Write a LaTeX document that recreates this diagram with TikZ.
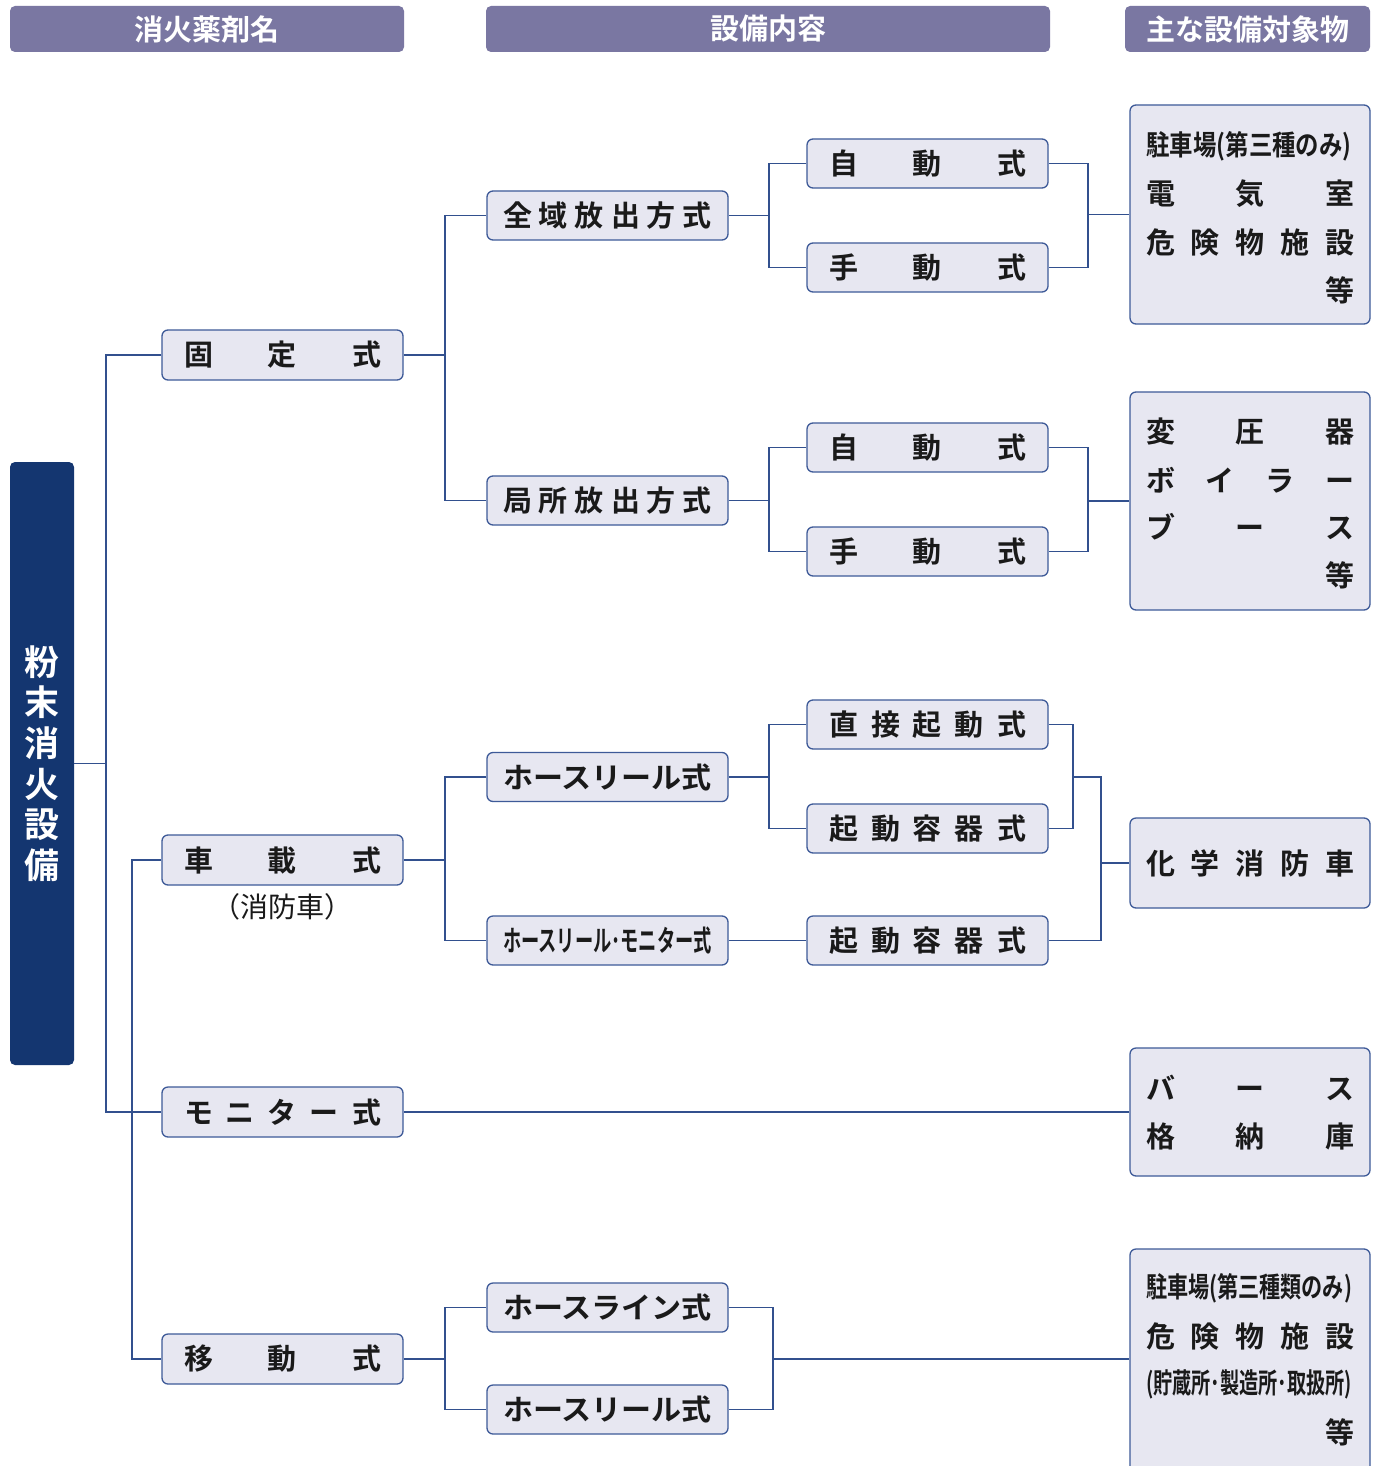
\documentclass[tikz,border=0pt]{standalone}
\usepackage{fontspec}
\usepackage{graphicx}
\setmainfont{Noto Sans CJK JP}[BoldFont={* Bold}]
\definecolor{hdrc}{HTML}{7A77A2}
\definecolor{rootc}{HTML}{143670}
\definecolor{boxc}{HTML}{E7E7F1}
\definecolor{bordc}{HTML}{3E5A98}
\definecolor{linec}{HTML}{32508E}
\definecolor{txtc}{HTML}{1A1A1A}
\newcommand\spr[2]{\makebox[#1][s]{#2}}
\newcommand\cnd[2]{\resizebox{#1}{\height}{#2}}
\tikzset{
  hdr/.style={fill=hdrc, rounded corners=5pt, text=white, inner sep=0pt, minimum height=46pt, font=\fontsize{29}{34}\selectfont\bfseries},
  lbox/.style={draw=bordc, fill=boxc, rounded corners=6pt, line width=1.3pt, inner sep=0pt, text=txtc, font=\fontsize{29}{34}\selectfont\bfseries},
  lv1/.style={lbox, minimum width=241pt, minimum height=50pt},
  lv2/.style={lbox, minimum width=241pt, minimum height=49pt},
  lv3/.style={lbox, minimum width=241pt, minimum height=49pt},
  lv4/.style={lbox, minimum width=240pt},
  ltxt/.style={inner sep=0pt, text=txtc, font=\fontsize{29}{34}\selectfont\bfseries},
  conn/.style={draw=linec, line width=1.4pt},
}
\begin{document}
\begin{tikzpicture}[x=1pt,y=-1pt]
\clip (0,0) rectangle (1384,1466);
\fill[white] (0,0) rectangle (1384,1466);
% headers
\node[hdr, minimum width=394pt] (h1) at (207,29) {消火薬剤名};
\node[hdr, minimum width=564pt] (h2) at (768,29) {設備内容};
\node[hdr, minimum width=245pt] (h3) at (1247.5,29) {主な設備対象物};
% root
\node[fill=rootc, rounded corners=5pt, minimum width=64pt, minimum height=603pt, inner sep=0pt, text=white, align=center, font=\fontsize{35}{40.6}\selectfont\bfseries] (root) at (42,763.5) {粉\\末\\消\\火\\設\\備};
% level 1
\node[lv1] (a1) at (282.5,355) {\spr{197pt}{固\hfill 定\hfill 式}};
\node[lv1] (a2) at (282.5,860) {\spr{197pt}{車\hfill 載\hfill 式}};
\node[lv1] (a3) at (282.5,1112) {\spr{197pt}{モ\hfill ニ\hfill タ\hfill ー\hfill 式}};
\node[lv1] (a4) at (282.5,1359) {\spr{197pt}{移\hfill 動\hfill 式}};
\node[ltxt, font=\fontsize{28}{34}\selectfont] (a2n) at (282,907) {（消防車）};
% level 2
\node[lv2] (b1) at (607.5,215.5) {\spr{209pt}{全\hfill 域\hfill 放\hfill 出\hfill 方\hfill 式}};
\node[lv2] (b2) at (607.5,500.5) {\spr{209pt}{局\hfill 所\hfill 放\hfill 出\hfill 方\hfill 式}};
\node[lv2] (b3) at (607.5,777) {\cnd{209pt}{ホースリール式}};
\node[lv2] (b4) at (607.5,940.5) {\cnd{209pt}{ホースリール･モニター式}};
\node[lv2] (b5) at (607.5,1307.5) {\cnd{209pt}{ホースライン式}};
\node[lv2] (b6) at (607.5,1409.5) {\cnd{209pt}{ホースリール式}};
% level 3
\node[lv3] (c1) at (927.5,163.5) {\spr{197pt}{自\hfill 動\hfill 式}};
\node[lv3] (c2) at (927.5,267.5) {\spr{197pt}{手\hfill 動\hfill 式}};
\node[lv3] (c3) at (927.5,447.5) {\spr{197pt}{自\hfill 動\hfill 式}};
\node[lv3] (c4) at (927.5,551.5) {\spr{197pt}{手\hfill 動\hfill 式}};
\node[lv3] (c5) at (927.5,724.5) {\spr{197pt}{直\hfill 接\hfill 起\hfill 動\hfill 式}};
\node[lv3] (c6) at (927.5,828.5) {\spr{197pt}{起\hfill 動\hfill 容\hfill 器\hfill 式}};
\node[lv3] (c7) at (927.5,940.5) {\spr{197pt}{起\hfill 動\hfill 容\hfill 器\hfill 式}};
% level 4
\node[lv4, minimum height=219pt] (d1) at (1250,214.5) {};
\node[lv4, minimum height=218pt] (d2) at (1250,501) {};
\node[lv4, minimum height=90pt] (d3) at (1250,863) {\spr{208pt}{化\hfill 学\hfill 消\hfill 防\hfill 車}};
\node[lv4, minimum height=128pt] (d4) at (1250,1112) {};
\node[lv4, minimum height=241pt] (d5) at (1250,1369.5) {};
% level 4 texts
\node[ltxt, font=\fontsize{28}{34}\selectfont\bfseries] (d1t1) at (1249,146) {\cnd{205pt}{駐車場(第三種のみ)}};
\node[ltxt] (d1t2) at (1250,194) {\spr{208pt}{電\hfill 気\hfill 室}};
\node[ltxt] (d1t3) at (1250,242) {\spr{208pt}{危\hfill 険\hfill 物\hfill 施\hfill 設}};
\node[ltxt] (d1t4) at (1250,290) {\spr{208pt}{\hfill 等}};
\node[ltxt] (d2t1) at (1250,432) {\spr{208pt}{変\hfill 圧\hfill 器}};
\node[ltxt] (d2t2) at (1250,480) {\spr{208pt}{ボ\hfill イ\hfill ラ\hfill ー}};
\node[ltxt] (d2t3) at (1250,527) {\spr{208pt}{ブ\hfill ー\hfill ス}};
\node[ltxt] (d2t4) at (1250,575) {\spr{208pt}{\hfill 等}};
\node[ltxt] (d4t1) at (1250,1088) {\spr{208pt}{バ\hfill ー\hfill ス}};
\node[ltxt] (d4t2) at (1250,1136) {\spr{208pt}{格\hfill 納\hfill 庫}};
\node[ltxt, font=\fontsize{28}{34}\selectfont\bfseries] (d5t1) at (1249,1288) {\cnd{206pt}{駐車場(第三種類のみ)}};
\node[ltxt] (d5t2) at (1250,1336) {\spr{208pt}{危\hfill 険\hfill 物\hfill 施\hfill 設}};
\node[ltxt, font=\fontsize{28}{34}\selectfont\bfseries] (d5t3) at (1249,1384) {\cnd{206pt}{(貯蔵所･製造所･取扱所)}};
\node[ltxt] (d5t4) at (1250,1432) {\spr{208pt}{\hfill 等}};
% bus coordinates
\coordinate (x1) at (106,0);
\coordinate (x2) at (132,0);
\coordinate (x3) at (445,0);
\coordinate (x4) at (769,0);
\coordinate (x5) at (1088,0);
\coordinate (x6) at (1073,0);
\coordinate (x7) at (1101,0);
\coordinate (x8) at (773,0);
% root -> level 1
\draw[conn] (root.east) -- (root.east -| x1);
\draw[conn] (a1.west) -| (x1 |- a3.west) -- (a3.west);
\draw[conn] (a2.west) -| (x2 |- a4.west) -- (a4.west);
% level 1 -> level 2
\draw[conn] (a1.east) -- (a1.east -| x3);
\draw[conn] (b1.west) -| (x3 |- b2.west) -- (b2.west);
\draw[conn] (a2.east) -- (a2.east -| x3);
\draw[conn] (b3.west) -| (x3 |- b4.west) -- (b4.west);
\draw[conn] (a4.east) -- (a4.east -| x3);
\draw[conn] (b5.west) -| (x3 |- b6.west) -- (b6.west);
% level 2 -> level 3
\draw[conn] (b1.east) -- (b1.east -| x4);
\draw[conn] (c1.west) -| (x4 |- c2.west) -- (c2.west);
\draw[conn] (b2.east) -- (b2.east -| x4);
\draw[conn] (c3.west) -| (x4 |- c4.west) -- (c4.west);
\draw[conn] (b3.east) -- (b3.east -| x4);
\draw[conn] (c5.west) -| (x4 |- c6.west) -- (c6.west);
\draw[conn] (b4.east) -- (c7.west);
% level 3 -> level 4
\draw[conn] (c1.east) -| (x5 |- c2.east) -- (c2.east);
\draw[conn] (x5 |- d1.west) -- (d1.west);
\draw[conn] (c3.east) -| (x5 |- c4.east) -- (c4.east);
\draw[conn] (x5 |- d2.west) -- (d2.west);
\draw[conn] (c5.east) -| (x6 |- c6.east) -- (c6.east);
\draw[conn] (x6 |- b3.east) -| (x7 |- c7.east) -- (c7.east);
\draw[conn] (x7 |- d3.west) -- (d3.west);
\draw[conn] (a3.east) -- (d4.west);
\draw[conn] (b5.east) -| (x8 |- b6.east) -- (b6.east);
\draw[conn] (x8 |- a4.east) -- (d5.west |- a4.east);
\end{tikzpicture}
\end{document}
